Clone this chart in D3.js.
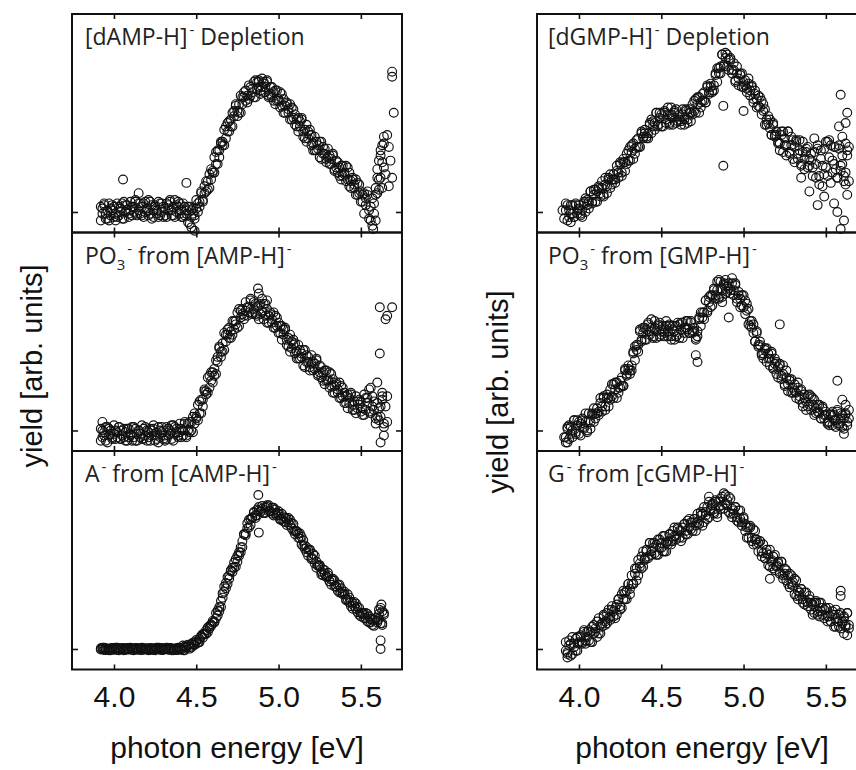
<!DOCTYPE html>
<html>
<head>
<meta charset="utf-8">
<script src="https://cdn.jsdelivr.net/npm/d3@7"></script>
<style>
  body { margin: 0; background: #fff; }
  svg { display: block; }
</style>
</head>
<body>
<div id="chart"></div>
<script>
/* Photon energy grid shared by all scans [eV] */
const energy = [
  3.92,3.93,3.94,3.95,3.96,3.97,3.98,3.99,4.00,4.01,
  4.02,4.03,4.04,4.05,4.06,4.07,4.08,4.09,4.10,4.11,
  4.12,4.13,4.14,4.15,4.16,4.17,4.18,4.19,4.20,4.21,
  4.22,4.23,4.24,4.25,4.26,4.27,4.28,4.29,4.30,4.31,
  4.32,4.33,4.34,4.35,4.36,4.37,4.38,4.39,4.40,4.41,
  4.42,4.43,4.44,4.45,4.46,4.47,4.48,4.49,4.50,4.51,
  4.52,4.53,4.54,4.55,4.56,4.57,4.58,4.59,4.60,4.61,
  4.62,4.63,4.64,4.65,4.66,4.67,4.68,4.69,4.70,4.71,
  4.72,4.73,4.74,4.75,4.76,4.77,4.78,4.79,4.80,4.81,
  4.82,4.83,4.84,4.85,4.86,4.87,4.88,4.89,4.90,4.91,
  4.92,4.93,4.94,4.95,4.96,4.97,4.98,4.99,5.00,5.01,
  5.02,5.03,5.04,5.05,5.06,5.07,5.08,5.09,5.10,5.11,
  5.12,5.13,5.14,5.15,5.16,5.17,5.18,5.19,5.20,5.21,
  5.22,5.23,5.24,5.25,5.26,5.27,5.28,5.29,5.30,5.31,
  5.32,5.33,5.34,5.35,5.36,5.37,5.38,5.39,5.40,5.41,
  5.42,5.43,5.44,5.45,5.46,5.47,5.48,5.49,5.50,5.51,
  5.52,5.53,5.54,5.55,5.56,5.57,5.58,5.59,5.60,5.61,
  5.62,5.63,5.64
];

/* Yields [arb. units], two scans per spectrum */
const dAMPDepletionScan1 = [
  0.03,-0.01,0.05,-0.04,0.01,-0.05,0.02,0.04,-0.03,-0.01,
  -0.03,0.03,0.00,0.05,-0.04,0.04,0.01,-0.01,0.06,-0.02,
  0.03,0.06,-0.01,0.01,0.05,-0.02,0.05,0.00,0.02,-0.02,
  -0.01,0.04,-0.03,0.03,0.01,0.06,-0.02,0.05,-0.03,0.02,
  0.05,0.01,0.07,-0.02,0.03,-0.03,0.04,0.06,-0.01,0.01,
  -0.03,0.03,-0.01,0.03,-0.07,0.01,-0.01,-0.02,0.07,0.00,
  0.06,0.11,0.07,0.11,0.18,0.13,0.22,0.19,0.24,0.23,
  0.28,0.36,0.32,0.40,0.41,0.48,0.43,0.52,0.47,0.54,
  0.58,0.56,0.63,0.56,0.63,0.58,0.67,0.70,0.65,0.68,
  0.66,0.73,0.70,0.76,0.67,0.76,0.73,0.71,0.78,0.70,
  0.73,0.76,0.68,0.69,0.73,0.65,0.71,0.65,0.66,0.61,
  0.62,0.66,0.58,0.63,0.60,0.63,0.54,0.60,0.51,0.54,
  0.55,0.50,0.55,0.44,0.48,0.41,0.47,0.48,0.39,0.40,
  0.36,0.41,0.37,0.41,0.31,0.38,0.34,0.31,0.37,0.28,
  0.31,0.33,0.25,0.26,0.29,0.21,0.27,0.21,0.23,0.18,
  0.19,0.23,0.14,0.19,0.16,0.19,0.10,0.16,0.06,0.10,
  0.11,0.04,0.12,-0.04,0.03,-0.08,0.05,0.14,0.11,0.19,
  0.20,0.39,0.40
];
const dAMPDepletionScan2 = [
  -0.05,0.02,0.04,-0.01,-0.04,0.05,-0.02,0.01,0.03,-0.05,
  0.05,-0.02,0.02,-0.04,0.06,0.00,0.04,-0.03,0.01,0.03,
  0.00,0.07,-0.02,0.05,-0.01,0.03,-0.03,0.06,0.01,0.07,
  0.06,-0.04,0.01,0.04,-0.01,-0.03,0.05,0.00,0.03,-0.02,
  -0.03,0.04,0.06,0.01,-0.02,0.07,0.00,0.03,0.05,-0.03,
  0.05,-0.02,0.01,-0.06,0.03,-0.03,0.02,-0.04,0.02,0.05,
  0.03,0.12,0.06,0.15,0.12,0.18,0.14,0.25,0.23,0.32,
  0.35,0.28,0.36,0.41,0.39,0.39,0.50,0.47,0.53,0.50,
  0.50,0.59,0.62,0.59,0.58,0.68,0.63,0.67,0.71,0.64,
  0.74,0.68,0.72,0.67,0.77,0.72,0.76,0.69,0.73,0.75,
  0.70,0.77,0.67,0.73,0.67,0.70,0.63,0.71,0.65,0.70,
  0.69,0.58,0.62,0.64,0.58,0.54,0.61,0.55,0.57,0.50,
  0.47,0.53,0.54,0.47,0.43,0.51,0.43,0.45,0.45,0.36,
  0.44,0.36,0.39,0.32,0.41,0.34,0.37,0.29,0.32,0.33,
  0.28,0.34,0.24,0.30,0.23,0.26,0.19,0.27,0.22,0.27,
  0.26,0.15,0.18,0.20,0.14,0.10,0.17,0.11,0.12,0.06,
  -0.01,0.08,0.10,0.01,-0.05,0.08,-0.01,0.10,0.20,0.13,
  0.36,0.29,0.44
];
const po3FromAMPScan1 = [
  -0.06,0.00,-0.03,0.02,-0.07,0.01,-0.02,-0.04,0.03,-0.05,
  -0.01,0.02,-0.05,-0.03,0.01,-0.06,0.01,-0.04,-0.02,-0.06,
  -0.04,0.01,-0.06,0.00,-0.02,0.03,-0.05,0.02,-0.06,-0.01,
  0.01,-0.03,0.03,-0.06,-0.01,-0.07,0.00,0.02,-0.05,-0.03,
  -0.05,0.01,-0.02,0.03,-0.06,0.02,-0.01,-0.03,0.04,-0.04,
  0.00,0.04,-0.03,0.00,0.05,0.00,0.08,0.04,0.08,0.06,
  0.10,0.18,0.14,0.23,0.23,0.31,0.25,0.34,0.28,0.36,
  0.41,0.40,0.49,0.43,0.51,0.47,0.56,0.59,0.54,0.58,
  0.56,0.64,0.62,0.69,0.61,0.70,0.68,0.67,0.75,0.67,
  0.72,0.76,0.69,0.71,0.74,0.67,0.73,0.68,0.70,0.65,
  0.67,0.71,0.63,0.68,0.65,0.69,0.60,0.66,0.57,0.61,
  0.61,0.56,0.60,0.50,0.54,0.46,0.52,0.53,0.45,0.46,
  0.42,0.47,0.43,0.47,0.37,0.44,0.40,0.37,0.44,0.35,
  0.39,0.41,0.33,0.34,0.37,0.29,0.35,0.29,0.30,0.25,
  0.26,0.30,0.22,0.27,0.24,0.28,0.19,0.25,0.16,0.20,
  0.21,0.16,0.22,0.12,0.17,0.10,0.17,0.18,0.11,0.13,
  0.09,0.19,0.16,0.24,0.10,0.20,0.12,0.07,0.16,0.06,
  0.14,0.18,0.04
];
const po3FromAMPScan2 = [
  0.01,-0.04,-0.01,-0.06,0.02,-0.03,0.00,-0.05,-0.02,0.00,
  -0.04,0.02,-0.05,0.00,-0.04,-0.01,-0.06,0.01,-0.03,0.02,
  0.02,-0.06,-0.02,0.00,-0.04,-0.05,0.01,-0.03,0.00,-0.04,
  -0.06,0.00,0.01,-0.03,-0.05,0.02,-0.04,-0.01,0.00,-0.06,
  0.02,-0.03,0.00,-0.05,0.03,-0.02,0.01,-0.04,-0.01,0.01,
  -0.03,0.05,-0.04,0.04,-0.01,0.05,-0.01,0.10,0.07,0.15,
  0.17,0.10,0.18,0.24,0.21,0.22,0.32,0.29,0.34,0.32,
  0.33,0.43,0.48,0.46,0.46,0.57,0.52,0.56,0.60,0.54,
  0.64,0.59,0.64,0.60,0.71,0.66,0.71,0.65,0.70,0.72,
  0.69,0.77,0.68,0.75,0.68,0.72,0.65,0.74,0.69,0.74,
  0.74,0.63,0.67,0.69,0.63,0.60,0.67,0.61,0.63,0.57,
  0.53,0.59,0.59,0.53,0.49,0.56,0.48,0.50,0.51,0.42,
  0.50,0.42,0.45,0.38,0.47,0.40,0.43,0.35,0.39,0.40,
  0.36,0.42,0.32,0.38,0.31,0.34,0.27,0.35,0.29,0.34,
  0.33,0.22,0.26,0.28,0.22,0.19,0.26,0.20,0.22,0.16,
  0.13,0.19,0.21,0.15,0.12,0.20,0.13,0.15,0.17,0.09,
  0.21,0.12,0.19,0.11,0.25,0.14,0.17,0.04,0.08,0.13,
  0.08,0.20,0.02
];
const aFromCAMPScan1 = [
  0.004,-0.002,0.007,-0.006,0.002,-0.007,0.003,0.006,-0.004,-0.001,
  -0.006,0.003,-0.002,0.006,-0.007,0.004,0.000,-0.003,0.007,-0.004,
  0.002,0.006,-0.004,-0.001,0.004,-0.006,0.004,-0.003,0.000,-0.006,
  -0.003,0.004,-0.006,0.003,0.000,0.007,-0.004,0.006,-0.006,0.002,
  -0.001,-0.004,0.006,0.003,-0.007,0.002,-0.006,0.007,-0.002,0.004,
  -0.007,0.014,0.007,0.025,0.002,0.029,0.025,0.024,0.052,0.036,
  0.058,0.077,0.066,0.087,0.109,0.098,0.134,0.134,0.155,0.158,
  0.180,0.225,0.220,0.280,0.300,0.365,0.355,0.420,0.410,0.455,
  0.475,0.475,0.525,0.510,0.565,0.565,0.630,0.670,0.665,0.705,
  0.710,0.760,0.765,0.800,0.765,0.815,0.810,0.800,0.835,0.795,
  0.825,0.840,0.805,0.805,0.825,0.780,0.815,0.780,0.790,0.760,
  0.760,0.775,0.740,0.760,0.740,0.755,0.705,0.730,0.670,0.685,
  0.675,0.645,0.655,0.600,0.605,0.565,0.580,0.580,0.525,0.525,
  0.500,0.510,0.485,0.490,0.435,0.465,0.440,0.420,0.445,0.395,
  0.405,0.410,0.365,0.365,0.375,0.330,0.355,0.320,0.320,0.290,
  0.290,0.300,0.250,0.270,0.250,0.265,0.215,0.240,0.190,0.205,
  0.205,0.180,0.205,0.155,0.175,0.140,0.170,0.180,0.155,0.175,
  0.150,0.220,0.200
];
const aFromCAMPScan2 = [
  -0.003,0.007,-0.006,0.004,-0.004,0.002,-0.007,0.006,-0.002,0.007,
  0.007,-0.007,0.000,0.004,-0.003,-0.006,0.006,-0.002,0.003,-0.004,
  -0.007,0.003,0.006,-0.002,-0.006,0.007,-0.003,0.002,0.004,-0.007,
  0.006,-0.004,0.002,-0.007,0.007,-0.002,0.004,-0.006,0.000,0.003,
  0.007,-0.002,0.006,-0.007,0.002,-0.004,0.004,-0.006,0.007,-0.003,
  0.020,-0.007,0.010,0.022,0.011,0.008,0.037,0.027,0.043,0.036,
  0.040,0.071,0.087,0.087,0.088,0.125,0.119,0.143,0.164,0.155,
  0.210,0.195,0.245,0.245,0.325,0.335,0.385,0.380,0.430,0.460,
  0.450,0.505,0.480,0.545,0.545,0.595,0.595,0.670,0.675,0.735,
  0.755,0.725,0.770,0.795,0.780,0.780,0.830,0.805,0.820,0.795,
  0.795,0.830,0.840,0.805,0.790,0.825,0.790,0.795,0.805,0.755,
  0.790,0.745,0.765,0.725,0.765,0.725,0.735,0.690,0.690,0.690,
  0.650,0.675,0.610,0.635,0.585,0.595,0.545,0.580,0.535,0.555,
  0.545,0.475,0.490,0.485,0.450,0.430,0.460,0.425,0.430,0.395,
  0.375,0.400,0.400,0.365,0.340,0.375,0.330,0.335,0.335,0.285,
  0.320,0.270,0.275,0.235,0.275,0.235,0.245,0.200,0.210,0.210,
  0.180,0.210,0.160,0.190,0.155,0.170,0.135,0.180,0.165,0.205,
  0.240,0.150,0.210
];
const dGMPDepletionScan1 = [
  0.01,0.04,-0.03,-0.01,0.04,-0.03,0.04,-0.01,0.02,-0.02,
  0.01,0.06,0.00,0.07,0.06,0.12,0.05,0.13,0.06,0.12,
  0.14,0.11,0.18,0.10,0.16,0.11,0.19,0.22,0.16,0.19,
  0.17,0.24,0.23,0.29,0.21,0.31,0.29,0.28,0.36,0.30,
  0.35,0.40,0.34,0.38,0.43,0.38,0.46,0.43,0.46,0.43,
  0.46,0.52,0.46,0.53,0.52,0.58,0.50,0.58,0.50,0.56,
  0.58,0.54,0.61,0.52,0.57,0.51,0.58,0.60,0.53,0.54,
  0.51,0.57,0.54,0.60,0.52,0.60,0.58,0.57,0.65,0.58,
  0.63,0.67,0.61,0.65,0.70,0.64,0.73,0.69,0.73,0.70,
  0.74,0.81,0.76,0.84,0.85,0.92,0.85,0.93,0.85,0.89,
  0.89,0.83,0.87,0.77,0.81,0.74,0.80,0.81,0.73,0.74,
  0.70,0.75,0.71,0.74,0.64,0.71,0.66,0.62,0.67,0.57,
  0.59,0.60,0.51,0.52,0.54,0.45,0.51,0.44,0.45,0.40,
  0.40,0.47,0.35,0.43,0.39,0.47,0.34,0.44,0.31,0.38,
  0.41,0.34,0.42,0.28,0.35,0.25,0.35,0.38,0.27,0.30,
  0.21,0.35,0.28,0.39,0.16,0.36,0.27,0.22,0.41,0.21,
  0.32,0.39,0.23,0.28,0.38,0.20,0.37,0.24,0.28,0.18,
  0.23,0.36,0.18
];
const dGMPDepletionScan2 = [
  0.05,-0.05,0.01,0.04,-0.01,-0.03,0.05,0.01,0.04,-0.01,
  -0.03,0.05,0.08,0.04,0.02,0.12,0.06,0.10,0.13,0.06,
  0.15,0.09,0.14,0.09,0.20,0.15,0.20,0.14,0.19,0.22,
  0.19,0.27,0.20,0.28,0.23,0.29,0.24,0.34,0.30,0.38,
  0.39,0.31,0.37,0.42,0.38,0.38,0.47,0.44,0.48,0.44,
  0.43,0.51,0.54,0.50,0.48,0.58,0.51,0.55,0.57,0.50,
  0.59,0.52,0.57,0.51,0.61,0.55,0.59,0.52,0.56,0.57,
  0.53,0.60,0.51,0.59,0.54,0.58,0.53,0.63,0.59,0.66,
  0.67,0.58,0.64,0.69,0.65,0.64,0.74,0.70,0.75,0.71,
  0.71,0.80,0.84,0.81,0.81,0.92,0.86,0.90,0.92,0.83,
  0.90,0.81,0.83,0.76,0.85,0.78,0.81,0.73,0.76,0.77,
  0.72,0.78,0.68,0.73,0.66,0.69,0.61,0.68,0.61,0.65,
  0.63,0.51,0.54,0.56,0.49,0.45,0.52,0.45,0.47,0.41,
  0.36,0.45,0.47,0.39,0.33,0.47,0.35,0.39,0.42,0.29,
  0.42,0.31,0.36,0.27,0.41,0.31,0.37,0.26,0.31,0.34,
  0.26,0.43,0.20,0.37,0.21,0.31,0.15,0.37,0.26,0.41,
  0.42,0.17,0.30,0.38,0.25,0.20,0.39,0.27,0.33,0.21,
  0.16,0.33,0.38
];
const po3FromGMPScan1 = [
  -0.04,0.02,-0.05,0.02,0.00,0.06,-0.02,0.06,-0.02,0.04,
  0.06,0.02,0.10,0.00,0.06,0.01,0.09,0.13,0.07,0.10,
  0.09,0.16,0.14,0.20,0.12,0.21,0.19,0.18,0.27,0.19,
  0.24,0.28,0.22,0.25,0.31,0.26,0.35,0.32,0.36,0.33,
  0.38,0.46,0.41,0.50,0.50,0.59,0.52,0.60,0.53,0.59,
  0.62,0.58,0.65,0.55,0.60,0.54,0.61,0.63,0.56,0.58,
  0.55,0.61,0.58,0.62,0.53,0.61,0.58,0.55,0.63,0.54,
  0.59,0.63,0.57,0.60,0.64,0.57,0.63,0.57,0.58,0.53,
  0.58,0.66,0.61,0.69,0.69,0.76,0.69,0.78,0.72,0.79,
  0.82,0.79,0.87,0.78,0.83,0.78,0.85,0.88,0.81,0.83,
  0.80,0.86,0.82,0.86,0.75,0.81,0.77,0.73,0.79,0.68,
  0.70,0.71,0.61,0.60,0.62,0.52,0.57,0.49,0.50,0.44,
  0.45,0.48,0.40,0.45,0.42,0.46,0.36,0.42,0.33,0.37,
  0.38,0.32,0.38,0.27,0.31,0.23,0.29,0.30,0.22,0.23,
  0.19,0.25,0.20,0.24,0.14,0.21,0.17,0.14,0.21,0.12,
  0.15,0.18,0.10,0.11,0.15,0.07,0.13,0.07,0.09,0.04,
  0.05,0.10,0.03,0.09,0.06,0.12,0.03,0.10,0.02,0.07,
  0.09,0.05,0.12
];
const po3FromGMPScan2 = [
  -0.07,0.01,0.03,-0.02,-0.04,0.06,-0.01,0.03,0.05,-0.03,
  0.07,0.01,0.05,-0.01,0.10,0.05,0.10,0.05,0.10,0.13,
  0.11,0.19,0.11,0.19,0.14,0.19,0.14,0.24,0.20,0.27,
  0.28,0.19,0.25,0.29,0.26,0.26,0.36,0.33,0.38,0.35,
  0.35,0.45,0.49,0.47,0.46,0.58,0.53,0.57,0.60,0.53,
  0.63,0.56,0.60,0.54,0.64,0.58,0.62,0.55,0.59,0.61,
  0.57,0.64,0.55,0.61,0.55,0.59,0.53,0.61,0.56,0.62,
  0.63,0.54,0.60,0.64,0.59,0.57,0.64,0.58,0.60,0.54,
  0.55,0.65,0.69,0.66,0.65,0.76,0.70,0.75,0.79,0.73,
  0.83,0.77,0.82,0.77,0.87,0.82,0.86,0.80,0.84,0.86,
  0.82,0.89,0.79,0.85,0.77,0.79,0.72,0.79,0.72,0.76,
  0.74,0.62,0.64,0.64,0.57,0.52,0.58,0.50,0.52,0.45,
  0.42,0.47,0.48,0.42,0.38,0.45,0.37,0.39,0.40,0.31,
  0.39,0.30,0.33,0.26,0.35,0.27,0.30,0.22,0.25,0.27,
  0.22,0.28,0.18,0.23,0.16,0.19,0.12,0.20,0.15,0.20,
  0.19,0.09,0.13,0.15,0.10,0.07,0.14,0.09,0.11,0.05,
  0.03,0.09,0.11,0.06,0.02,0.11,0.04,0.07,0.09,0.01,
  0.10,0.03,0.07
];
const gFromCGMPScan1 = [
  -0.01,-0.02,0.05,0.03,-0.03,0.03,-0.01,0.07,0.03,0.08,
  0.03,0.10,0.05,0.07,0.11,0.04,0.13,0.09,0.12,0.07,
  0.09,0.14,0.13,0.19,0.14,0.21,0.18,0.17,0.25,0.22,
  0.24,0.20,0.29,0.23,0.32,0.29,0.33,0.29,0.38,0.35,
  0.38,0.38,0.47,0.47,0.43,0.50,0.47,0.57,0.52,0.58,
  0.53,0.62,0.57,0.59,0.62,0.55,0.64,0.59,0.62,0.57,
  0.57,0.62,0.61,0.67,0.61,0.69,0.66,0.64,0.71,0.69,
  0.69,0.65,0.73,0.67,0.75,0.71,0.74,0.69,0.76,0.72,
  0.74,0.73,0.80,0.79,0.74,0.80,0.76,0.86,0.81,0.85,
  0.79,0.86,0.79,0.83,0.88,0.84,0.91,0.85,0.87,0.80,
  0.79,0.82,0.79,0.83,0.75,0.81,0.76,0.72,0.77,0.73,
  0.71,0.65,0.71,0.63,0.70,0.64,0.64,0.57,0.63,0.57,
  0.56,0.53,0.58,0.55,0.48,0.52,0.47,0.55,0.48,0.51,
  0.44,0.51,0.43,0.44,0.46,0.38,0.44,0.38,0.39,0.32,
  0.31,0.34,0.31,0.35,0.27,0.33,0.28,0.25,0.31,0.27,
  0.26,0.21,0.27,0.20,0.27,0.22,0.24,0.18,0.24,0.19,
  0.19,0.16,0.22,0.20,0.13,0.18,0.13,0.21,0.15,0.19,
  0.13,0.21,0.14
];
const gFromCGMPScan2 = [
  0.04,-0.03,0.02,-0.04,0.07,0.01,0.06,-0.01,0.04,0.07,
  0.04,0.11,0.03,0.10,0.05,0.10,0.04,0.14,0.10,0.16,
  0.18,0.09,0.15,0.20,0.16,0.15,0.23,0.19,0.23,0.19,
  0.18,0.26,0.29,0.25,0.24,0.34,0.29,0.34,0.38,0.32,
  0.43,0.38,0.44,0.40,0.52,0.48,0.54,0.48,0.53,0.57,
  0.54,0.62,0.55,0.62,0.56,0.61,0.55,0.64,0.59,0.66,
  0.66,0.57,0.63,0.67,0.63,0.63,0.71,0.66,0.70,0.65,
  0.63,0.71,0.73,0.69,0.67,0.76,0.70,0.74,0.76,0.69,
  0.79,0.73,0.78,0.72,0.83,0.78,0.83,0.77,0.82,0.84,
  0.80,0.87,0.77,0.86,0.82,0.89,0.82,0.90,0.84,0.89,
  0.88,0.77,0.81,0.83,0.77,0.74,0.81,0.74,0.76,0.69,
  0.65,0.71,0.72,0.65,0.61,0.69,0.61,0.62,0.63,0.54,
  0.61,0.53,0.56,0.49,0.58,0.51,0.54,0.46,0.49,0.50,
  0.45,0.51,0.41,0.47,0.40,0.43,0.36,0.43,0.37,0.41,
  0.40,0.29,0.33,0.35,0.29,0.26,0.33,0.27,0.29,0.23,
  0.20,0.27,0.28,0.22,0.19,0.27,0.20,0.23,0.24,0.16,
  0.24,0.16,0.20,0.13,0.23,0.16,0.20,0.12,0.16,0.18,
  0.14,0.21,0.12
];

/* Stray points off the grid: [energy, yield] */
const dAMPDepletionExtra = [[4.055,0.19],[4.15,0.11],[4.44,0.17],[4.47,-0.09],[4.49,-0.11],[4.88,0.77],[4.91,0.76],
  [5.575,-0.10],[5.59,-0.05],[5.60,0.25],[5.61,0.30],[5.62,0.33],[5.63,0.14],[5.64,0.26],[5.65,0.22],
  [5.66,0.45],[5.67,0.38],[5.67,0.15],[5.68,0.30],[5.69,0.20],[5.69,0.82],[5.69,0.79],[5.70,0.58]];
const po3FromAMPExtra = [[3.93,0.05],[4.875,0.83],[4.88,0.80],[4.90,0.77],[4.93,0.76],[5.615,0.72],[5.66,0.67],
  [5.65,0.65],[5.69,0.72],[5.615,0.45],[5.60,0.28],[5.63,0.22],[5.65,0.14],[5.66,0.05],[5.64,-0.03],
  [5.62,-0.07],[5.66,0.20]];
const aFromCAMPExtra = [[4.877,0.90],[4.88,0.68],[5.62,0.05],[5.62,0.00],[5.625,0.26],[5.61,0.23],[5.63,0.14]];
const dGMPDepletionExtra = [[3.90,0.01],[3.91,-0.04],[3.95,-0.06],[4.877,0.62],[4.877,0.27],[5.00,0.59],
  [5.59,0.685],[5.58,0.50],[5.62,0.52],[5.40,0.12],[5.35,0.20],[5.49,0.09],[5.45,0.04],[5.59,-0.10],
  [5.61,-0.05],[5.57,0.00],[5.63,0.10],[5.55,0.05],[5.60,0.44],[5.62,0.40],[5.63,0.58]];
const po3FromGMPExtra = [[3.91,-0.04],[3.93,-0.07],[5.57,0.29],[5.22,0.62],[4.91,0.66],[4.72,0.40],[4.71,0.44],
  [5.60,0.18],[5.62,0.15],[5.61,-0.02],[4.85,0.88],[4.87,0.75]];
const gFromCGMPExtra = [[3.93,-0.05],[5.59,0.34],[5.59,0.31],[4.79,0.89],[5.16,0.41],[5.61,0.09],[5.63,0.08]];

/* Panel titles: pieces of text, "sup"/"sub" pieces are raised or lowered */
const titles = [
  [["[dAMP-H]"], ["-", "sup"], [" Depletion"]],
  [["PO"], ["3", "sub"], ["-", "sup"], [" from [AMP-H]"], ["-", "sup"]],
  [["A"], ["-", "sup"], [" from [cAMP-H]"], ["-", "sup"]],
  [["[dGMP-H]"], ["-", "sup"], [" Depletion"]],
  [["PO"], ["3", "sub"], ["-", "sup"], [" from [GMP-H]"], ["-", "sup"]],
  [["G"], ["-", "sup"], [" from [cGMP-H]"], ["-", "sup"]]
];
const scans = [
  [dAMPDepletionScan1, dAMPDepletionScan2],
  [po3FromAMPScan1, po3FromAMPScan2],
  [aFromCAMPScan1, aFromCAMPScan2],
  [dGMPDepletionScan1, dGMPDepletionScan2],
  [po3FromGMPScan1, po3FromGMPScan2],
  [gFromCGMPScan1, gFromCGMPScan2]
];
const extras = [dAMPDepletionExtra, po3FromAMPExtra, aFromCAMPExtra, dGMPDepletionExtra, po3FromGMPExtra, gFromCGMPExtra];

const xTicks = [4.0, 4.5, 5.0, 5.5];
const xDomain = [3.745, 5.75];
const yDomain = [-0.12, 1.157];
const xTitle = "photon energy [eV]";
const yTitle = "yield [arb. units]";

/* Layout */
const width = 856, height = 770;
const colX = [72, 537], colW = 330;
const rowY = [14, 232.5, 451], rowH = 218.5;
const axisFont = "'Liberation Sans', Arial, sans-serif";
const titleFont = "'Open Sans', 'Noto Sans', sans-serif";

const svg = d3.select("#chart")
  .append("svg")
    .attr("width", width)
    .attr("height", height)
    .attr("viewBox", [0, 0, width, height]);

const xScale = d3.scaleLinear().domain(xDomain).range([0, colW]);
const yScale = d3.scaleLinear().domain(yDomain).range([rowH, 0]);

scans.forEach((pair, i) => {
  const col = Math.floor(i / 3), row = i % 3;
  const g = svg.append("g")
    .attr("transform", `translate(${colX[col]},${rowY[row]})`);

  // points of both scans plus the stray ones
  let pts = [];
  pair.forEach(vals => {
    pts = pts.concat(energy.map((e, k) => [e, vals[k]]).filter(d => d[1] !== undefined));
  });
  pts = pts.concat(extras[i]);

  // scatter, open circles
  g.append("g")
    .selectAll("circle")
    .data(pts)
    .join("circle")
      .attr("cx", d => xScale(d[0]))
      .attr("cy", d => yScale(d[1]))
      .attr("r", 4.4)
      .attr("fill", "none")
      .attr("stroke", "#111")
      .attr("stroke-width", 1.15);

  // inward ticks on all four sides
  const tickStyle = sel => {
    sel.select(".domain").remove();
    sel.selectAll(".tick line").attr("stroke", "#111").attr("stroke-width", 1.6);
  };
  g.append("g")
    .attr("transform", `translate(0,${rowH})`)
    .call(d3.axisBottom(xScale).tickValues(xTicks).tickSize(-5).tickFormat(""))
    .call(tickStyle);
  g.append("g")
    .call(d3.axisTop(xScale).tickValues(xTicks).tickSize(-5).tickFormat(""))
    .call(tickStyle);
  g.append("g")
    .call(d3.axisLeft(yScale).tickValues([0]).tickSize(-6).tickFormat(""))
    .call(tickStyle);
  g.append("g")
    .attr("transform", `translate(${colW},0)`)
    .call(d3.axisRight(yScale).tickValues([0]).tickSize(-6).tickFormat(""))
    .call(tickStyle);

  // frame
  g.append("rect")
    .attr("width", colW)
    .attr("height", rowH)
    .attr("fill", "none")
    .attr("stroke", "#111")
    .attr("stroke-width", 2);

  // panel title
  const t = g.append("text")
    .attr("x", col === 0 ? 13 : 11)
    .attr("y", 31)
    .attr("font-family", titleFont)
    .attr("font-size", 23)
    .attr("fill", "#222");
  let shift = 0;
  titles[i].forEach(([txt, kind]) => {
    const target = kind === "sup" ? -10 : kind === "sub" ? 6 : 0;
    t.append("tspan")
      .attr("dy", target - shift)
      .attr("dx", kind === "sup" ? 2 : 0)
      .attr("font-size", kind ? 15 : 23)
      .text(txt);
    shift = target;
  });

  // tick labels under the bottom row
  if (row === 2) {
    const ax = g.append("g")
      .attr("transform", `translate(0,${rowH})`)
      .call(d3.axisBottom(xScale).tickValues(xTicks).tickSize(0).tickPadding(16).tickFormat(d3.format(".1f")));
    ax.select(".domain").remove();
    ax.selectAll("text")
      .attr("font-family", axisFont)
      .attr("font-size", 30)
      .attr("fill", "#111");
  }
});

// axis titles
colX.forEach(cx => {
  svg.append("text")
    .attr("x", cx + colW / 2)
    .attr("y", 758)
    .attr("text-anchor", "middle")
    .attr("font-family", axisFont)
    .attr("font-size", 30)
    .attr("fill", "#111")
    .text(xTitle);
});
[[42, 366], [508, 392]].forEach(([lx, ly]) => {
  svg.append("text")
    .attr("transform", `translate(${lx},${ly}) rotate(-90)`)
    .attr("text-anchor", "middle")
    .attr("font-family", axisFont)
    .attr("font-size", 29)
    .attr("fill", "#111")
    .text(yTitle);
});
</script>
</body>
</html>
